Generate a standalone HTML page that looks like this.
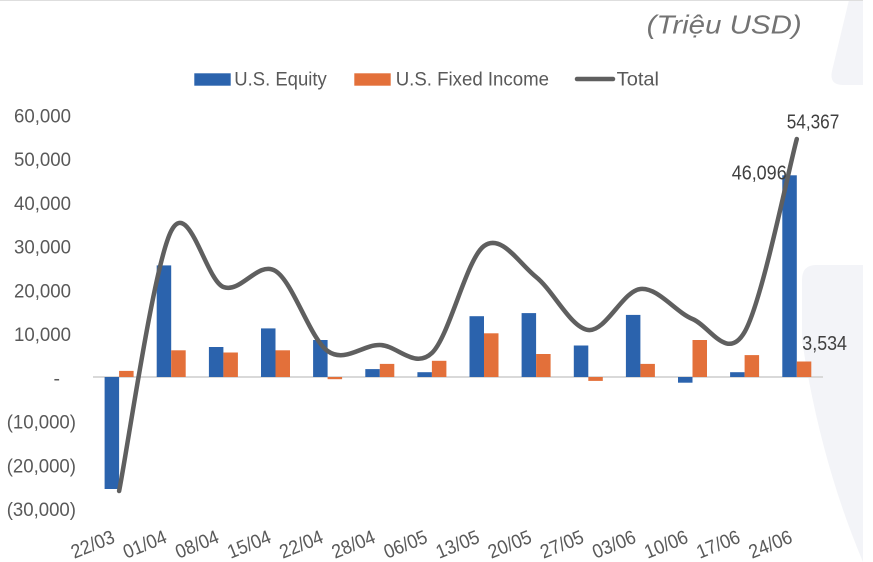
<!DOCTYPE html>
<html>
<head>
<meta charset="utf-8">
<style>
  html, body { margin:0; padding:0; background:#ffffff; }
  body { width:873px; height:562px; overflow:hidden; }
  svg { display:block; }
  text { font-family: "Liberation Sans", Arial, sans-serif; }
</style>
</head>
<body>
<svg width="873" height="562" viewBox="0 0 873 562" xmlns="http://www.w3.org/2000/svg">
  <!-- background decorative shapes -->
  <path d="M849,0 H863 V85 H843 Q829,85 832,71 Z" fill="#f3f4f8"/>
  <path d="M816,265 H863 V562 Q820,460 802,340 V280 Q802,265 816,265 Z" fill="#f3f4f8"/>
  <line x1="0" y1="0.5" x2="863" y2="0.5" stroke="#dedede" stroke-width="1"/>

  <!-- title -->
  <text x="646.7" y="33.5" font-size="26" font-style="italic" fill="#737373" textLength="155" lengthAdjust="spacingAndGlyphs">(Triệu USD)</text>

  <!-- legend -->
  <rect x="194.3" y="73.3" width="36.4" height="12.4" fill="#2b63ad"/>
  <text x="234.3" y="85.7" font-size="19.5" fill="#595959" textLength="92.4" lengthAdjust="spacingAndGlyphs">U.S. Equity</text>
  <rect x="354.3" y="73.3" width="36.4" height="12.4" fill="#e3703a"/>
  <text x="395.7" y="85.7" font-size="19.5" fill="#595959" textLength="153.3" lengthAdjust="spacingAndGlyphs">U.S. Fixed Income</text>
  <line x1="577" y1="79" x2="613" y2="79" stroke="#5f5f5f" stroke-width="4.5" stroke-linecap="round"/>
  <text x="616.7" y="85.7" font-size="19.5" fill="#595959" textLength="42.3" lengthAdjust="spacingAndGlyphs">Total</text>

  <!-- y axis labels -->
  <g font-size="19.5" fill="#595959" text-anchor="end">
    <text x="71" y="122.3" textLength="57" lengthAdjust="spacingAndGlyphs">60,000</text>
    <text x="71" y="166" textLength="57" lengthAdjust="spacingAndGlyphs">50,000</text>
    <text x="71" y="209.8" textLength="57" lengthAdjust="spacingAndGlyphs">40,000</text>
    <text x="71" y="253.5" textLength="57" lengthAdjust="spacingAndGlyphs">30,000</text>
    <text x="71" y="297.3" textLength="57" lengthAdjust="spacingAndGlyphs">20,000</text>
    <text x="71" y="341" textLength="57" lengthAdjust="spacingAndGlyphs">10,000</text>
    <text x="60" y="385">-</text>
    <text x="76" y="428.5" textLength="69.3" lengthAdjust="spacingAndGlyphs">(10,000)</text>
    <text x="76" y="472.3" textLength="69.3" lengthAdjust="spacingAndGlyphs">(20,000)</text>
    <text x="76" y="516" textLength="69.3" lengthAdjust="spacingAndGlyphs">(30,000)</text>
  </g>

  <!-- zero line -->
  <line x1="93" y1="377" x2="823" y2="377" stroke="#d9d9d9" stroke-width="2"/>

  <!-- bars: blue (U.S. Equity) -->
  <g fill="#2b63ad">
    <rect x="104.6" y="377" width="14.5" height="112"/>
    <rect x="156.7" y="265.4" width="14.5" height="111.6"/>
    <rect x="208.9" y="347" width="14.5" height="30"/>
    <rect x="261" y="328.4" width="14.5" height="48.6"/>
    <rect x="313.1" y="340" width="14.5" height="37"/>
    <rect x="365.3" y="369.1" width="14.5" height="7.9"/>
    <rect x="417.4" y="372.2" width="14.5" height="4.8"/>
    <rect x="469.5" y="316.2" width="14.5" height="60.8"/>
    <rect x="521.6" y="313.1" width="14.5" height="63.9"/>
    <rect x="573.8" y="345.5" width="14.5" height="31.5"/>
    <rect x="625.9" y="314.9" width="14.5" height="62.1"/>
    <rect x="678" y="377" width="14.5" height="5.7"/>
    <rect x="730.1" y="372.2" width="14.5" height="4.8"/>
    <rect x="782.3" y="175.3" width="14.5" height="201.7"/>
  </g>
  <!-- bars: orange (U.S. Fixed Income) -->
  <g fill="#e3703a">
    <rect x="119.1" y="370.9" width="14.5" height="6.1"/>
    <rect x="171.2" y="350.3" width="14.5" height="26.7"/>
    <rect x="223.4" y="352.5" width="14.5" height="24.5"/>
    <rect x="275.5" y="350.3" width="14.5" height="26.7"/>
    <rect x="327.6" y="377" width="14.5" height="2.2"/>
    <rect x="379.8" y="363.9" width="14.5" height="13.1"/>
    <rect x="431.9" y="360.8" width="14.5" height="16.2"/>
    <rect x="484" y="333.3" width="14.5" height="43.7"/>
    <rect x="536.1" y="354" width="14.5" height="23"/>
    <rect x="588.3" y="377" width="14.5" height="3.9"/>
    <rect x="640.4" y="363.9" width="14.5" height="13.1"/>
    <rect x="692.5" y="340" width="14.5" height="37"/>
    <rect x="744.6" y="355.1" width="14.5" height="21.9"/>
    <rect x="796.8" y="361.5" width="14.5" height="15.5"/>
  </g>

  <!-- total smoothed line -->
  <path d="M119.1,491
           C127.8,447.7 153.8,265 171.2,231
           C188.6,197 206,280.3 223.4,287
           C240.8,293.7 258.1,260.3 275.5,271
           C292.9,281.7 310.2,338.7 327.6,351
           C345,363.3 362.4,344.7 379.8,345
           C397.2,345.3 414.5,369.5 431.9,353
           C449.3,336.5 466.6,258.7 484,246
           C501.4,233.3 518.7,263 536.1,277
           C553.5,291 570.9,328 588.3,330
           C605.7,332 623,290.8 640.4,289
           C657.8,287.2 675.1,311.8 692.5,319
           C709.9,326.2 727.2,362 744.6,332
           C762,302 788.1,171.2 796.8,139"
        fill="none" stroke="#5f5f5f" stroke-width="4.5" stroke-linecap="round" stroke-linejoin="round"/>

  <!-- data labels -->
  <g font-size="20" fill="#404040">
    <text x="786.7" y="128.3" textLength="52.6" lengthAdjust="spacingAndGlyphs">54,367</text>
    <text x="731.7" y="179.3" textLength="55" lengthAdjust="spacingAndGlyphs">46,096</text>
    <text x="802.3" y="350" textLength="44.7" lengthAdjust="spacingAndGlyphs">3,534</text>
  </g>

  <!-- x axis labels -->
  <g font-size="19.5" fill="#595959" text-anchor="end">
    <text transform="translate(116,542) rotate(-22)" textLength="45" lengthAdjust="spacingAndGlyphs">22/03</text>
    <text transform="translate(168.1,542) rotate(-22)" textLength="45" lengthAdjust="spacingAndGlyphs">01/04</text>
    <text transform="translate(220.3,542) rotate(-22)" textLength="45" lengthAdjust="spacingAndGlyphs">08/04</text>
    <text transform="translate(272.4,542) rotate(-22)" textLength="45" lengthAdjust="spacingAndGlyphs">15/04</text>
    <text transform="translate(324.5,542) rotate(-22)" textLength="45" lengthAdjust="spacingAndGlyphs">22/04</text>
    <text transform="translate(376.7,542) rotate(-22)" textLength="45" lengthAdjust="spacingAndGlyphs">28/04</text>
    <text transform="translate(428.8,542) rotate(-22)" textLength="45" lengthAdjust="spacingAndGlyphs">06/05</text>
    <text transform="translate(480.9,542) rotate(-22)" textLength="45" lengthAdjust="spacingAndGlyphs">13/05</text>
    <text transform="translate(533,542) rotate(-22)" textLength="45" lengthAdjust="spacingAndGlyphs">20/05</text>
    <text transform="translate(585.2,542) rotate(-22)" textLength="45" lengthAdjust="spacingAndGlyphs">27/05</text>
    <text transform="translate(637.3,542) rotate(-22)" textLength="45" lengthAdjust="spacingAndGlyphs">03/06</text>
    <text transform="translate(689.4,542) rotate(-22)" textLength="45" lengthAdjust="spacingAndGlyphs">10/06</text>
    <text transform="translate(741.5,542) rotate(-22)" textLength="45" lengthAdjust="spacingAndGlyphs">17/06</text>
    <text transform="translate(793.7,542) rotate(-22)" textLength="45" lengthAdjust="spacingAndGlyphs">24/06</text>
  </g>
</svg>
</body>
</html>
